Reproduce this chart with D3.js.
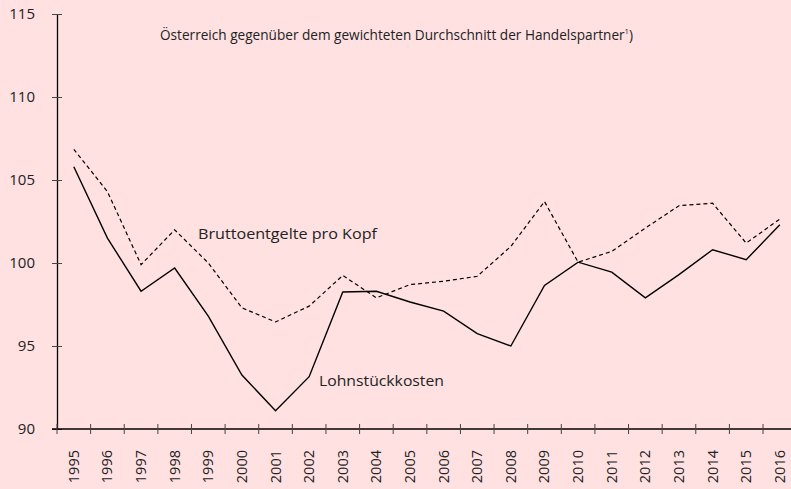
<!DOCTYPE html>
<html>
<head>
<meta charset="utf-8">
<script src="https://cdn.jsdelivr.net/npm/d3@7"></script>
<style>
  body { margin: 0; background: #ffe1e2; }
  svg { display: block; }
  text { font-family: "Open Sans", sans-serif; fill: #222; }
</style>
</head>
<body>
<script>
// years on the category axis
const years = d3.range(1995, 2017).map(String);

// Lohnstückkosten (solid)
const lohnstueck = [105.8, 101.5, 98.3, 99.7, 96.8, 93.25, 91.1, 93.15, 98.25, 98.3,
                    97.65, 97.1, 95.75, 95.0, 98.65, 100.05, 99.45, 97.9, 99.3, 100.8,
                    100.2, 102.3];

// Bruttoentgelte pro Kopf (dashed)
const brutto = [106.85, 104.3, 99.9, 102.0, 100.0, 97.3, 96.45, 97.4, 99.25, 97.9,
                98.7, 98.9, 99.2, 101.0, 103.7, 100.05, 100.7, 102.1, 103.45, 103.6,
                101.2, 102.65];

const yTicks = [90, 95, 100, 105, 110, 115];

const W = 791, H = 489;
const margin = {left: 57, top: 14, bottom: 60};
const band = 33.62;

const svg = d3.select("body").append("svg")
    .attr("width", W).attr("height", H);

const x = d3.scaleBand()
    .domain(years)
    .range([margin.left, margin.left + band * years.length])
    .padding(0);

const y = d3.scaleLinear()
    .domain([90, 115])
    .range([H - margin.bottom, margin.top]);

const cx = d => x(d) + x.bandwidth() / 2;

// y axis
const yAxis = svg.append("g")
    .attr("transform", "translate(" + margin.left + ",0)")
    .call(d3.axisLeft(y).tickValues(yTicks).tickSize(0).tickPadding(22));
yAxis.select(".domain").attr("stroke", "#000").attr("stroke-width", 1.3);
yAxis.selectAll(".tick line")
    .attr("x1", -5).attr("x2", 5)
    .attr("stroke", "#444").attr("stroke-width", 1);
yAxis.selectAll(".tick text")
    .style("font-size", "15px").attr("fill", "#222");

// x axis
const y0 = y(90);
svg.append("line")
    .attr("x1", margin.left - 5).attr("x2", W)
    .attr("y1", y0).attr("y2", y0)
    .attr("stroke", "#000").attr("stroke-width", 1.3);

svg.append("g").selectAll("line")
    .data(years)
    .enter().append("line")
    .attr("x1", d => x(d)).attr("x2", d => x(d))
    .attr("y1", y0 - 5).attr("y2", y0 + 5)
    .attr("stroke", "#444").attr("stroke-width", 1);

svg.append("g").selectAll("text")
    .data(years)
    .enter().append("text")
    .attr("transform", d => "translate(" + (cx(d) + 5) + "," + (y0 + 21) + ") rotate(-90)")
    .attr("text-anchor", "end")
    .style("font-size", "14.5px")
    .text(d => d);

// lines
const line = d3.line()
    .x((d, i) => cx(years[i]))
    .y(d => y(d));

svg.append("path")
    .datum(brutto)
    .attr("d", line)
    .attr("fill", "none")
    .attr("stroke", "#000")
    .attr("stroke-width", 1.2)
    .attr("stroke-dasharray", "4,3");

svg.append("path")
    .datum(lohnstueck)
    .attr("d", line)
    .attr("fill", "none")
    .attr("stroke", "#000")
    .attr("stroke-width", 1.4);

// title with footnote mark, sized so it spans about 473px
const title = svg.append("text")
    .attr("x", 160).attr("y", 40)
    .style("font-size", "14px");
title.append("tspan")
    .text("Österreich gegenüber dem gewichteten Durchschnitt der Handelspartner");
title.append("tspan")
    .attr("dy", -6)
    .style("font-size", "8px")
    .text("1");
title.append("tspan")
    .attr("dy", 6)
    .text(")");
const tw = title.node().getComputedTextLength();
title.style("font-size", (14 * 473 / tw).toFixed(2) + "px");
title.select("tspan:nth-child(2)").style("font-size", (8 * 473 / tw).toFixed(2) + "px");

// series labels
svg.append("text")
    .attr("x", 198).attr("y", 239)
    .style("font-size", "15px")
    .attr("textLength", 179)
    .attr("lengthAdjust", "spacingAndGlyphs")
    .text("Bruttoentgelte pro Kopf");

svg.append("text")
    .attr("x", 319).attr("y", 386)
    .style("font-size", "15px")
    .attr("textLength", 125)
    .attr("lengthAdjust", "spacingAndGlyphs")
    .text("Lohnstückkosten");
</script>
</body>
</html>
